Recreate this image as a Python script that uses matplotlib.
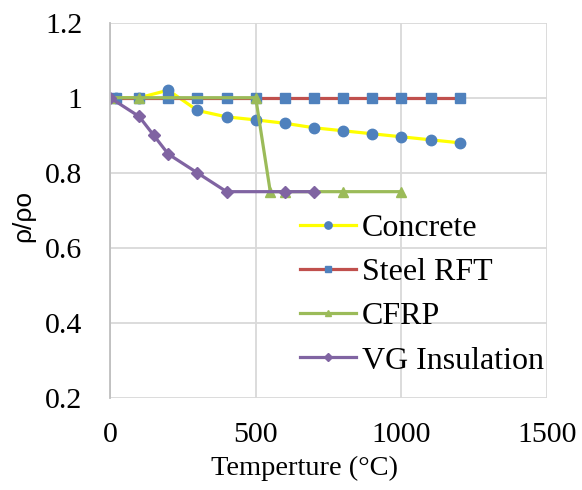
import matplotlib
matplotlib.use("Agg")
import matplotlib.pyplot as plt

# temperature (C) and normalised value rho/rho0 for each material
concrete_t = [20, 100, 200, 300, 400, 500, 600, 700, 800, 900, 1000, 1100, 1200]
concrete_v = [1.0, 1.0, 1.02, 0.966, 0.949, 0.941, 0.932, 0.92, 0.912, 0.904, 0.896, 0.888, 0.88]

steel_t = [20, 100, 200, 300, 400, 500, 600, 700, 800, 900, 1000, 1100, 1200]
steel_v = [1.0, 1.0, 1.0, 1.0, 1.0, 1.0, 1.0, 1.0, 1.0, 1.0, 1.0, 1.0, 1.0]

cfrp_t = [0, 100, 500, 550, 600, 800, 1000]
cfrp_v = [1.0, 1.0, 1.0, 0.75, 0.75, 0.75, 0.75]

vg_t = [0, 100, 150, 200, 300, 400, 600, 700]
vg_v = [1.0, 0.95, 0.9, 0.85, 0.8, 0.75, 0.75, 0.75]

x_ticks = [0, 500, 1000, 1500]
y_ticks = [0.2, 0.4, 0.6, 0.8, 1.0, 1.2]
y_labels = ["0.2", "0.4", "0.6", "0.8", "1", "1.2"]

serif = "Liberation Serif"
blue = "#4F81BD"

fig = plt.figure(figsize=(5.82, 4.90), dpi=100)
ax = fig.add_axes([0.189, 0.187, 0.751, 0.767])

ax.plot(concrete_t, concrete_v, color="#FFFF00", lw=2.3, marker="o", ms=7.5,
        mfc=blue, mec=blue, label="Concrete")
ax.plot(steel_t, steel_v, color="#C0504D", lw=2.3, marker="s", ms=7,
        mfc=blue, mec=blue, label="Steel RFT")
ax.plot(cfrp_t, cfrp_v, color="#9BBB59", lw=2.3, marker="^", ms=7,
        mfc="#9BBB59", mec="#9BBB59", label="CFRP")
ax.plot(vg_t, vg_v, color="#8064A2", lw=2.3, marker="D", ms=6,
        mfc="#8064A2", mec="#8064A2", label="VG Insulation")

ax.set_xlim(0, 1500)
ax.set_ylim(0.2, 1.2)
ax.set_xticks(x_ticks)
ax.set_yticks(y_ticks)
ax.set_yticklabels(y_labels)
ax.grid(True, color="#D9D9D9", lw=1.3)
ax.set_axisbelow(True)
for side in ["top", "right", "bottom"]:
    ax.spines[side].set_visible(False)
ax.spines["left"].set_color("#BFBFBF")
ax.spines["left"].set_linewidth(1.3)
ax.tick_params(length=0, labelsize=21.5)
ax.tick_params(axis="x", pad=17)
ax.tick_params(axis="y", pad=20)
for lab in ax.get_xticklabels() + ax.get_yticklabels():
    lab.set_fontfamily(serif)

ax.set_xlabel("Temperture (\u00b0C)", fontsize=20.5, family=serif)
ax.xaxis.set_label_coords(0.446, -0.152)
ax.set_ylabel("\u03c1/\u03c1o", fontsize=19, family="Liberation Sans")
ax.yaxis.set_label_coords(-0.172, 0.485)

leg = ax.legend(loc="upper left", bbox_to_anchor=(300 / 582, 1 - 214 / 490),
                bbox_transform=fig.transFigure, frameon=False,
                prop={"family": serif, "size": 23}, markerscale=0.7,
                handlelength=1.75, handletextpad=0.18, labelspacing=0.46,
                borderaxespad=0, borderpad=0)

fig.savefig("out.png", dpi=100)
